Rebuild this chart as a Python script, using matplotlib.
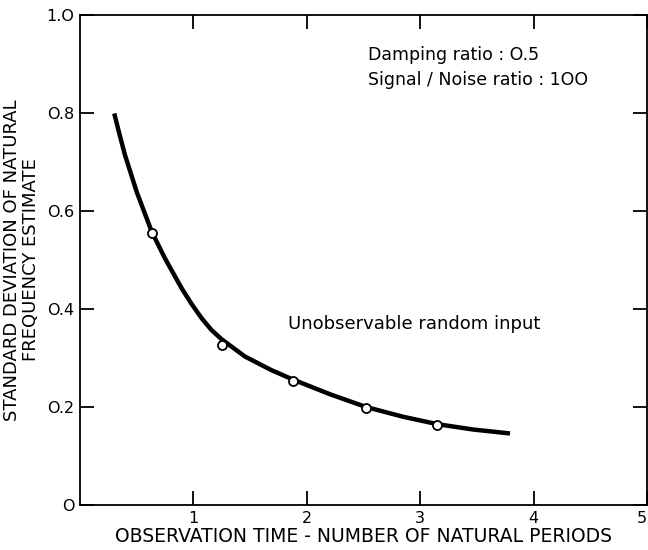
import matplotlib.pyplot as plt

# curve
curve_x = [0.302, 0.350, 0.397, 0.500, 0.632, 0.750, 0.897, 0.985, 1.073, 1.160,
           1.250, 1.455, 1.690, 1.878, 2.205, 2.522, 2.851, 3.151, 3.468, 3.792]
curve_y = [0.799, 0.755, 0.714, 0.639, 0.558, 0.503, 0.442, 0.410, 0.381, 0.357,
           0.338, 0.303, 0.275, 0.256, 0.226, 0.200, 0.180, 0.165, 0.154, 0.146]

# measured points (open circles)
pts_x = [0.632, 1.255, 1.876, 2.522, 3.151]
pts_y = [0.556, 0.327, 0.254, 0.197, 0.163]

xticks = [1, 2, 3, 4, 5]
yticks = [0, 0.2, 0.4, 0.6, 0.8, 1.0]
ytick_labels = ["O", "O.2", "O.4", "O.6", "O.8", "1.O"]

plt.rcParams['font.family'] = ['DejaVu Sans']

fig = plt.figure(figsize=(6.48, 5.5), dpi=100)
ax = fig.add_axes([80/648, 45/550, 567/648, 490/550])

ax.plot(curve_x, curve_y, color='black', lw=3.2, solid_capstyle='butt',
        solid_joinstyle='round', zorder=2)
ax.plot(pts_x, pts_y, 'o', ms=6.5, mfc='white', mec='black', mew=1.3, zorder=3)

ax.set_xlim(0, 5)
ax.set_ylim(0, 1.0)
ax.set_xticks(xticks)
ax.set_xticklabels([str(t) for t in xticks])
ax.set_yticks(yticks)
ax.set_yticklabels(ytick_labels)
ax.tick_params(direction='in', top=True, right=True, length=10, width=1.3,
               labelsize=11.5, pad=4)
ax.get_xticklabels()[-1].set_horizontalalignment('right')

for s in ax.spines.values():
    s.set_linewidth(1.3)

ax.set_xlabel("OBSERVATION TIME - NUMBER OF NATURAL PERIODS", fontsize=13.5, labelpad=1)
ax.set_ylabel("STANDARD DEVIATION OF NATURAL\nFREQUENCY ESTIMATE", fontsize=13, labelpad=5,
              linespacing=1.05)

ax.text(2.54, 0.918, "Damping ratio : O.5", fontsize=12.5, va='center')
ax.text(2.54, 0.867, "Signal / Noise ratio : 1OO", fontsize=12.5, va='center')
ax.text(1.83, 0.37, "Unobservable random input", fontsize=13, va='center')

fig.savefig("out.png", dpi=100)
